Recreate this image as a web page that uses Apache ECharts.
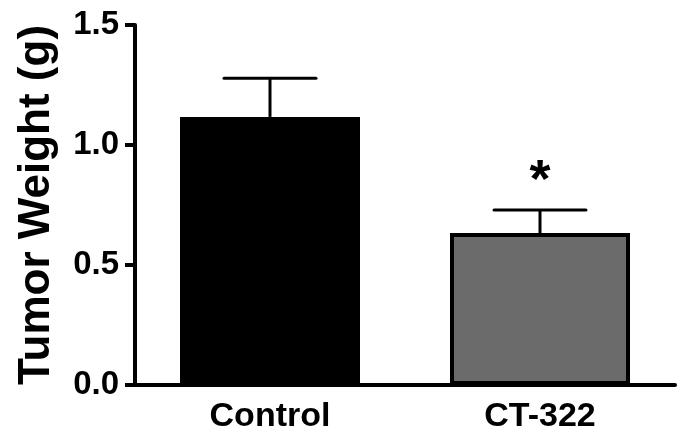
<!DOCTYPE html>
<html>
<head>
<meta charset="utf-8">
<script src="https://cdn.jsdelivr.net/npm/echarts@6/dist/echarts.min.js"></script>
<style>
    html, body { margin: 0; padding: 0; background: #fff; }
    #chart { width: 685px; height: 443px; }
</style>
</head>
<body>
<div id="chart"></div>
<script>
    // 数据
    const categories = ['Control', 'CT-322'];
    const means = [1.117, 0.633];
    const sem = [0.161, 0.096];
    const sigMarks = ['', '*'];
    const barColors = ['#000000', '#6b6b6b'];
    const yTicks = [0, 0.5, 1.0, 1.5];

    const FONT = '"Liberation Sans", Arial, Helvetica, sans-serif';

    const chart = echarts.init(document.getElementById('chart'));

    // 误差线 + 显著性标记
    function renderError(params, api) {
        const i = api.value(0);
        const top = api.coord([i, api.value(1) + api.value(2)]);
        const base = api.coord([i, api.value(1)]);
        const half = 46;
        const children = [
            {
                type: 'line',
                shape: { x1: top[0], y1: base[1], x2: top[0], y2: top[1] },
                style: { stroke: '#000', lineWidth: 3 }
            },
            {
                type: 'line',
                shape: { x1: top[0] - half, y1: top[1], x2: top[0] + half, y2: top[1] },
                style: { stroke: '#000', lineWidth: 3, lineCap: 'round' }
            }
        ];
        if (sigMarks[i]) {
            children.push({
                type: 'text',
                style: {
                    x: top[0], y: top[1] - 28,
                    text: sigMarks[i],
                    fill: '#000',
                    font: 'bold 54px ' + FONT,
                    align: 'center',
                    verticalAlign: 'middle'
                }
            });
        }
        return { type: 'group', children: children };
    }

    chart.setOption({
        animation: false,
        grid: { left: 135, right: 10, top: 25, bottom: 58 },
        xAxis: {
            type: 'category',
            data: categories,
            axisLine: { lineStyle: { color: '#000', width: 4 } },
            axisTick: { alignWithLabel: true, length: 10, lineStyle: { color: '#000', width: 4 } },
            axisLabel: { color: '#000', fontFamily: FONT, fontWeight: 'bold', fontSize: 34, margin: 15 }
        },
        yAxis: {
            type: 'value',
            min: yTicks[0],
            max: yTicks[yTicks.length - 1],
            interval: 0.5,
            name: 'Tumor Weight (g)',
            nameLocation: 'middle',
            nameGap: 76,
            nameTextStyle: { color: '#000', fontFamily: FONT, fontWeight: 'bold', fontSize: 44 },
            axisLine: { show: true, lineStyle: { color: '#000', width: 4 } },
            axisTick: { show: true, length: 10, lineStyle: { color: '#000', width: 4 } },
            splitLine: { show: false },
            axisLabel: {
                color: '#000', fontFamily: FONT, fontWeight: 'bold', fontSize: 33, margin: 16,
                formatter: function (v) { return v.toFixed(1); }
            }
        },
        series: [
            {
                type: 'bar',
                barWidth: 180,
                data: means.map(function (v, i) {
                    return {
                        value: v,
                        itemStyle: { color: barColors[i], borderColor: '#000', borderWidth: 4 }
                    };
                }),
                z: 2
            },
            {
                type: 'custom',
                renderItem: renderError,
                data: means.map(function (v, i) { return [i, v, sem[i]]; }),
                z: 3
            }
        ]
    });
</script>
</body>
</html>
